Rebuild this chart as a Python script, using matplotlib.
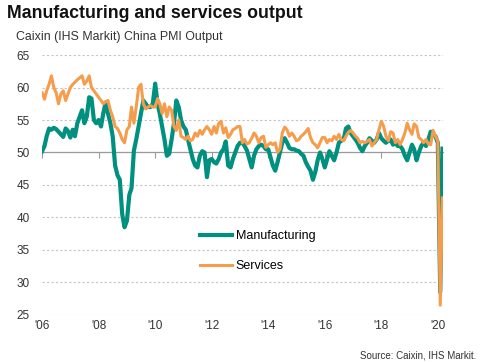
import pandas as pd
import matplotlib
matplotlib.use('Agg')
import matplotlib.pyplot as plt
import matplotlib.dates as mdates

plt.rcParams['font.family'] = ['Liberation Sans', 'DejaVu Sans']

# Monthly index readings, Jan 2006 - Mar 2020
months = pd.date_range('2006-01-01', '2020-03-01', freq='MS')

manufacturing = [
    50.2, 51.0, 52.5, 53.7, 53.5, 53.8, 53.6, 53.2, 52.8, 52.4, 53.7, 53.3,  # 2006
    52.3, 53.5, 52.5, 54.5, 55.5, 56.5, 54.5, 55.5, 58.5, 58.3, 55.0, 54.5,  # 2007
    55.0, 54.0, 56.0, 57.7, 56.0, 54.5, 52.5, 48.0, 46.5, 45.8, 40.5, 38.5,  # 2008
    39.5, 43.5, 44.5, 50.3, 52.0, 54.0, 56.0, 58.0, 57.5, 57.0, 57.0, 57.5,  # 2009
    60.6, 57.5, 56.0, 54.0, 52.0, 49.5, 49.8, 52.0, 54.5, 58.0, 57.0, 55.0,  # 2010
    54.0, 53.5, 52.0, 50.5, 49.0, 48.0, 47.7, 49.5, 50.2, 50.0, 46.2, 48.8,  # 2011
    49.0, 48.5, 48.3, 49.0, 50.0, 50.5, 51.7, 48.0, 47.7, 49.0, 50.0, 51.0,  # 2012
    51.5, 51.5, 51.0, 50.3, 49.0, 47.7, 49.5, 50.5, 51.0, 51.2, 51.0, 50.5,  # 2013
    50.5, 49.2, 48.0, 47.2, 48.5, 50.0, 51.5, 52.2, 51.5, 50.7, 50.5, 50.5,  # 2014
    50.3, 50.2, 49.8, 49.5, 48.5, 47.8, 47.2, 45.8, 47.0, 48.8, 50.0, 49.0,  # 2015
    47.7, 49.0, 50.2, 49.5, 48.8, 50.0, 51.5, 51.8, 52.0, 53.7, 54.0, 53.0,  # 2016
    52.5, 52.0, 51.5, 50.7, 50.2, 51.0, 51.5, 52.2, 51.8, 51.5, 52.0, 53.0,  # 2017
    52.2, 51.8, 51.5, 51.8, 52.0, 51.2, 51.5, 51.0, 51.0, 50.5, 49.5, 48.8,  # 2018
    50.0, 51.2, 50.5, 48.8, 50.0, 51.0, 51.5, 51.0, 52.0, 53.2, 52.7, 52.5,  # 2019
    51.5, 28.5, 50.6,                                                        # 2020
]

services = [
    59.2, 58.2, 59.5, 60.5, 61.8, 60.0, 59.2, 57.5, 59.0, 59.5, 58.0, 59.0,  # 2006
    60.0, 60.5, 60.8, 61.2, 61.5, 61.8, 60.5, 61.0, 61.8, 60.0, 59.5, 59.0,  # 2007
    58.5, 58.0, 57.5, 57.8, 58.0, 56.5, 55.5, 54.0, 53.7, 53.0, 52.0, 51.5,  # 2008
    53.5, 54.0, 57.0, 54.5, 57.0, 60.0, 60.5, 57.5, 56.7, 57.0, 57.2, 57.0,  # 2009
    57.0, 58.3, 57.5, 56.0, 57.5, 55.5, 57.0, 56.5, 54.0, 53.4, 55.0, 52.5,  # 2010
    52.3, 52.0, 52.5, 51.8, 52.0, 53.0, 52.5, 53.4, 52.8, 53.5, 54.0, 53.5,  # 2011
    52.8, 54.0, 53.0, 54.5, 54.8, 53.0, 53.8, 52.3, 52.8, 53.5, 53.7, 54.0,  # 2012
    54.0, 51.5, 52.0, 51.3, 51.5, 52.2, 53.0, 52.5, 51.5, 52.3, 52.5, 50.8,  # 2013
    51.2, 51.5, 51.2, 51.5, 50.0, 50.5, 53.0, 53.9, 53.5, 52.5, 53.0, 52.5,  # 2014
    51.8, 52.0, 52.5, 52.8, 53.2, 53.7, 52.3, 51.5, 51.2, 50.7, 51.5, 52.3,  # 2015
    52.3, 51.5, 52.0, 51.8, 52.5, 52.0, 52.8, 52.0, 51.8, 52.5, 53.1, 53.4,  # 2016
    53.0, 52.5, 52.2, 51.5, 51.7, 51.5, 51.7, 52.0, 51.0, 51.5, 52.0, 53.5,  # 2017
    54.8, 54.0, 52.5, 51.8, 53.2, 53.0, 51.5, 52.0, 51.2, 52.0, 53.0, 54.5,  # 2018
    53.5, 52.8, 54.4, 54.0, 52.3, 52.0, 51.5, 52.0, 51.3, 51.2, 53.4, 52.5,  # 2019
    51.8, 26.5, 43.0,                                                        # 2020
]

tick_years = [2006, 2008, 2010, 2012, 2014, 2016, 2018, 2020]
tick_labels = ["'06", "'08", "'10", "'12", "'14", "'16", "'18", "'20"]
y_ticks = [25, 30, 35, 40, 45, 50, 55, 60, 65]

teal = '#00907f'
orange = '#f59d4c'

x = mdates.date2num(months)
xt = mdates.date2num([pd.Timestamp(y, 1, 1) for y in tick_years])

fig = plt.figure(figsize=(4.84, 3.62), dpi=100)
ax = fig.add_axes([0.087, 0.130, 0.828, 0.718])

l1, = ax.plot(x, manufacturing, color=teal, lw=3.0, zorder=3, label='Manufacturing')
l2, = ax.plot(x, services, color=orange, lw=2.2, zorder=4, label='Services')

ax.set_ylim(25, 65)
ax.set_xlim(x[0], x[-1] + 5)
ax.set_yticks(y_ticks)
ax.yaxis.grid(True, linestyle=(0, (2, 2)), color='#c4c4c4', lw=0.8)
ax.set_axisbelow(True)
ax.tick_params(axis='y', length=0, labelsize=8.5, labelcolor='#333333', pad=9)

for s in ['top', 'right', 'left']:
    ax.spines[s].set_visible(False)
ax.spines['bottom'].set_position(('data', 50))
ax.spines['bottom'].set_color('#9a9a9a')
ax.spines['bottom'].set_linewidth(0.9)
ax.spines['bottom'].set_zorder(2)
ax.set_xticks(xt)
ax.tick_params(axis='x', direction='out', length=4, color='#9a9a9a', labelbottom=False)

sec = ax.secondary_xaxis('bottom')
sec.set_xticks(xt, tick_labels)
sec.tick_params(length=0, pad=4, labelsize=8.5, labelcolor='#333333')
sec.spines['bottom'].set_visible(False)

ax.legend([l1, l2], ['Manufacturing', 'Services'], loc='center left',
          bbox_to_anchor=(0.365, 0.245), frameon=False, fontsize=9,
          handlelength=2.6, handletextpad=0.3, labelspacing=1.45)

fig.text(7 / 484, 1 - 14 / 362, 'Manufacturing and services output',
         fontsize=12.8, weight='bold', va='center', color='#111111')
fig.text(16 / 484, 1 - 37 / 362, 'Caixin (IHS Markit) China PMI Output',
         fontsize=8.9, va='center', color='#333333')
fig.text(476 / 484, 1 - 355 / 362, 'Source: Caixin, IHS Markit.',
         fontsize=7, ha='right', va='center', color='#333333')

fig.savefig('out.png', dpi=100)
